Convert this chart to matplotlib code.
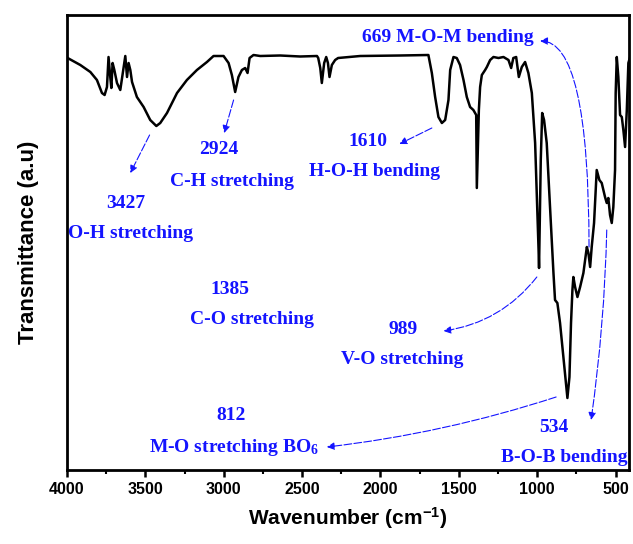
import matplotlib
matplotlib.use("Agg")
import matplotlib.pyplot as plt
from matplotlib.ticker import MultipleLocator
from matplotlib.patches import FancyArrowPatch

# ---------------- data ----------------
wavenumber = [3996, 3915, 3851, 3809, 3777, 3760, 3745, 3735, 3724, 3717, 3709, 3698,
              3681, 3660, 3641, 3628, 3617, 3607, 3596, 3585, 3554, 3511, 3469, 3430,
              3405, 3362, 3298, 3235, 3171, 3107, 3065, 3001, 2969, 2948, 2927, 2906,
              2884, 2863, 2848, 2835, 2810, 2767, 2640, 2512, 2405, 2397, 2384, 2374,
              2359, 2346, 2335, 2325, 2310, 2289, 2270, 2129, 1874, 1694, 1672, 1651,
              1630, 1608, 1587, 1566, 1555, 1534, 1513, 1492, 1470, 1449, 1428, 1407,
              1389, 1385, 1372, 1364, 1353, 1332, 1321, 1300, 1279, 1247, 1215, 1183,
              1166, 1152, 1134, 1117, 1098, 1077, 1056, 1034, 1013, 999, 991, 988,
              981, 977, 968, 956, 939, 928, 917, 907, 896, 886, 871, 854, 833, 815,
              807, 794, 784, 775, 769, 758, 743, 726, 705, 683, 673, 662, 652, 637,
              620, 603, 588, 567, 556, 546, 535, 524, 514, 503, 499, 492, 482, 471,
              460, 450, 439, 428, 418, 407]
transmittance = [412, 405, 398, 390, 377, 375, 383, 413, 393, 382, 407, 400,
                 387, 380, 400, 414, 393, 407, 400, 388, 373, 363, 350, 344,
                 347, 357, 377, 390, 400, 408, 414, 414, 407, 395, 378, 393,
                 400, 402, 397, 412, 415, 414, 414.5, 413.5, 414, 412, 402, 387,
                 407, 413, 407, 393, 405, 410, 412, 414, 414.5, 415, 397, 373,
                 353, 347, 350, 370, 400, 413, 412, 405, 390, 373, 363, 360,
                 355, 282, 360, 383, 395, 400, 403, 410, 413, 412, 413, 410,
                 402, 412, 413, 393, 403, 408, 397, 377, 327, 260, 220, 202,
                 270, 310, 357, 350, 327, 293, 260, 230, 197, 170, 167, 147, 113, 83,
                 72, 93, 147, 180, 193, 183, 173, 183, 197, 223, 217, 203, 223, 247,
                 300, 290, 287, 273, 267, 272, 255, 247, 263, 300, 377, 413, 393, 355,
                 353, 340, 323, 360, 407, 413]

x_ticks = [4000, 3500, 3000, 2500, 2000, 1500, 1000, 500]

# annotation texts: (text, wavenumber, transmittance)
labels = [
    ("3427", 3623, 266),
    ("O-H stretching", 3596, 237),
    ("2924", 3029, 320),
    ("C-H stretching", 2946, 289),
    ("1610", 2078, 328),
    ("H-O-H bending", 2040, 298),
    ("669 M-O-M bending", 1568, 433),
    ("1385", 2958, 181),
    ("C-O stretching", 2818, 150),
    ("989", 1855, 140),
    ("V-O stretching", 1861, 110),
    ("812", 2952, 55),
    ("534", 892, 42),
    ("B-O-B bending", 828, 13),
]
# arrows: (start, end, connection style)
arrows = [
    ((3473, 335), (3596, 297), "arc3,rad=0"),
    ((2937, 370), (2997, 337), "arc3,rad=0"),
    ((1672, 342), (1879, 326), "arc3,rad=0"),
    ((669, 223), (981, 429), "angle3,angleA=90,angleB=0"),
    ((1002, 193), (1598, 139), "arc3,rad=-0.2"),
    ((879, 73), (2342, 23), "arc3,rad=-0.05"),
    ((556, 240), (656, 50), "arc3,rad=-0.03"),
]

# ---------------- figure ----------------
plt.rcParams['mathtext.fontset'] = 'custom'
plt.rcParams['mathtext.rm'] = 'Liberation Serif:bold'
plt.rcParams['mathtext.it'] = 'Liberation Serif:bold'
plt.rcParams['mathtext.bf'] = 'Liberation Serif:bold'
plt.rcParams['mathtext.sf'] = 'Liberation Sans:bold'

fig = plt.figure(figsize=(6.33, 5.44), dpi=100)
ax = fig.add_axes([67/633, 1-470/544, (629-67)/633, (470-15)/544])

ax.plot(wavenumber, transmittance, color='black', lw=1.8, solid_joinstyle='round')
ax.set_xlim(4000, 414)
ax.set_ylim(0, 455)
ax.set_yticks([])
ax.set_xticks(x_ticks)
ax.xaxis.set_minor_locator(MultipleLocator(250))
ax.tick_params(axis='x', which='major', direction='out', length=5, width=1.8,
               labelsize=11.5, pad=4)
ax.tick_params(axis='x', which='minor', direction='out', length=3, width=1.5)
for lab in ax.get_xticklabels():
    lab.set_fontweight('bold')
    lab.set_fontfamily('Liberation Sans')
for s in ax.spines.values():
    s.set_linewidth(2.0)

ax.set_xlabel("Wavenumber (cm$^{\\mathsf{-1}}$)", fontsize=15, fontweight='bold',
              family='Liberation Sans', labelpad=6)
ax.set_ylabel("Transmittance (a.u)", fontsize=16, fontweight='bold',
              family='Liberation Sans', labelpad=20)

blue = '#1414FF'
for txt, xx, yy in labels:
    ax.text(xx, yy, txt, color=blue, fontsize=14, fontweight='bold',
            family='Liberation Serif', ha='center', va='center')
ax.text(2937, 18, "M-O stretching BO$_{6}$", color=blue, fontsize=14,
        fontweight='bold', family='Liberation Serif', ha='center', va='baseline')

for (p0, p1, cs) in arrows:
    arr = FancyArrowPatch(p0, p1, connectionstyle=cs, arrowstyle='-|>',
                          mutation_scale=11, color=blue, lw=0.8,
                          linestyle=(0, (7, 2)), shrinkA=0, shrinkB=0)
    ax.add_patch(arr)

fig.savefig("out.png", dpi=100)
